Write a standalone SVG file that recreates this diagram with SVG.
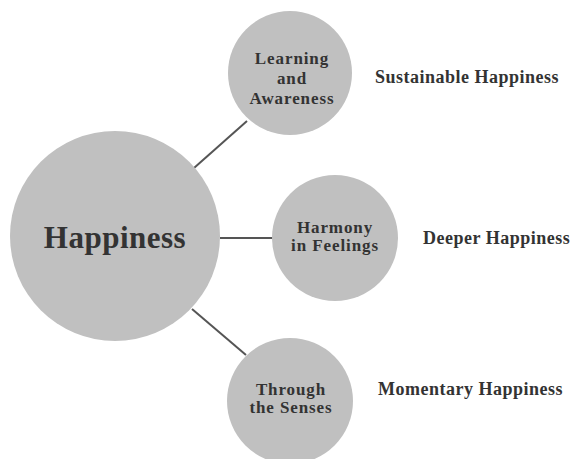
<svg xmlns="http://www.w3.org/2000/svg" width="570" height="459" viewBox="0 0 570 459">
  <style>
    .node { fill: #c0c0c0; }
    .label { font-family: "Liberation Serif", "Times New Roman", serif; font-weight: bold; fill: #333333; text-anchor: middle; font-size: 17px; letter-spacing: 0.9px; }
    .side { font-family: "Liberation Serif", "Times New Roman", serif; font-weight: bold; fill: #333333; font-size: 18px; letter-spacing: 0.5px; }
    .link { stroke: #555555; stroke-width: 2; fill: none; }
  </style>
  <rect width="570" height="459" fill="#ffffff"/>
  <g id="connectors">
    <line class="link" x1="194" y1="168" x2="247" y2="121"/>
    <line class="link" x1="220" y1="238" x2="273" y2="238"/>
    <line class="link" x1="192" y1="309" x2="246" y2="355"/>
  </g>
  <g id="happiness">
    <circle class="node" cx="115" cy="236" r="105"/>
    <text class="label" x="115" y="248" style="font-size:31px;letter-spacing:0.5px">Happiness</text>
  </g>
  <g id="learning">
    <circle class="node" cx="290" cy="73" r="62"/>
    <text class="label" x="292" y="64">Learning</text>
    <text class="label" x="292" y="84">and</text>
    <text class="label" x="292" y="104">Awareness</text>
  </g>
  <g id="harmony">
    <circle class="node" cx="335" cy="238" r="63"/>
    <text class="label" x="335" y="233">Harmony</text>
    <text class="label" x="335" y="251">in Feelings</text>
  </g>
  <g id="senses">
    <circle class="node" cx="290" cy="401" r="63"/>
    <text class="label" x="291" y="395">Through</text>
    <text class="label" x="291" y="413">the Senses</text>
  </g>
  <g id="levels">
    <text class="side" x="375" y="83">Sustainable Happiness</text>
    <text class="side" x="423" y="244">Deeper Happiness</text>
    <text class="side" x="378" y="395">Momentary Happiness</text>
  </g>
</svg>
